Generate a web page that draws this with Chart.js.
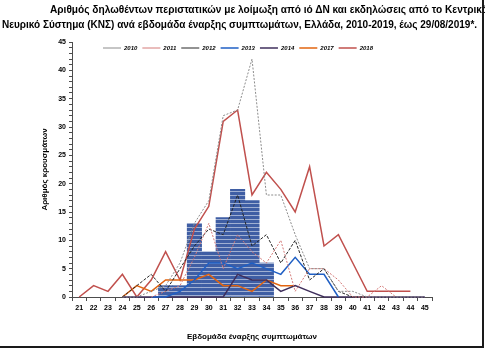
<!DOCTYPE html>
<html>
<head>
<meta charset="utf-8">
<script src="https://cdn.jsdelivr.net/npm/chart.js@4.4.0/dist/chart.umd.min.js"></script>
<style>
body { margin: 0; background: #fff; }
#wrap { position: relative; width: 485px; height: 350px; overflow: hidden; }
canvas { position: absolute; left: 0; top: 0; }
.t { position: absolute; white-space: nowrap; font: bold 11px "Liberation Sans Narrow", "Liberation Sans", sans-serif; color: #000; line-height: 12px; transform-origin: 0 0; }
#frameR { position: absolute; left: 482px; top: 0; width: 2px; height: 348px; background: #1a1a1a; }
#frameB { position: absolute; left: 0; top: 346px; width: 484px; height: 2px; background: #1a1a1a; }
</style>
</head>
<body>
<div id="wrap">
  <canvas id="myChart" width="485" height="350"></canvas>
  <div class="t" id="t1" data-w="438" style="left:50px;top:3px">Αριθμός δηλωθέντων περιστατικών με λοίμωξη από ιό ΔΝ και εκδηλώσεις από το Κεντρικό</div>
  <div class="t" id="t2" data-w="475" style="left:2px;top:18px">Νευρικό Σύστημα (ΚΝΣ) ανά εβδομάδα έναρξης συμπτωμάτων, Ελλάδα, 2010-2019, έως 29/08/2019*.</div>
  <div id="frameR"></div>
  <div id="frameB"></div>
</div>
<script>
// stretch the title lines to the width they have in the picture
document.querySelectorAll('.t').forEach(function (el) {
    let w = el.offsetWidth;
    el.style.transform = 'scaleX(' + (el.dataset.w / w) + ')';
});

const weeks = ['21','22','23','24','25','26','27','28','29','30','31','32','33','34','35','36','37','38','39','40','41','42','43','44','45'];

// 2019 cases (bars)
const cases2019 = [null,null,null,null,null,null,2,2,13,8,14,19,17,6,null,null,null,null,null,null,null,null,null,null,null];

// earlier seasons (lines)
const y2010 = [null,null,null,0,0,1,2,6,13,17,32,33,42,18,18,11,5,5,1,1,0,0,0,0,0];
const y2011 = [null,null,null,null,null,0,1,2,7,13,5,11,8,6,10,1,5,5,3,0,0,2,0,null,null];
const y2012 = [null,null,null,0,2,4,1,5,9,12,11,18,9,11,6,10,3,5,1,0,0,null,null,null,null];
const y2013 = [null,null,null,null,null,0,0,1,3,6,6,5,6,5,4,7,4,4,0,null,null,null,null,null,null];
const y2014 = [null,null,null,0,0,0,0,0,0,0,0,4,3,3,1,2,1,0,0,0,0,0,0,0,0];
const y2017 = [null,null,null,0,2,1,3,3,3,4,2,2,1,3,2,2,null,null,null,null,null,null,null,null,null];
const y2018 = [0,2,1,4,0,3,8,3,12,16,31,33,18,22,19,15,23,9,11,6,1,1,1,1,null];

let myChart = document.getElementById('myChart').getContext('2d');

function stripes () {
    let c = document.createElement('canvas');
    c.width = 4; c.height = 4;
    let g = c.getContext('2d');
    g.fillStyle = '#3f5ea4';
    g.fillRect(0, 0, 4, 4);
    g.fillStyle = 'rgba(255,255,255,0.5)';
    g.fillRect(0, 3, 4, 1);
    return myChart.createPattern(c, 'repeat');
}

function line (label, data, color, width, dash) {
    return {
        type: 'line', label: label, data: data,
        borderColor: color, backgroundColor: color,
        borderWidth: width, borderDash: dash,
        pointRadius: 0, tension: 0, fill: false, clip: false, order: 0
    };
}

// the legend sits inside the plot area in the original
const moveLegend = {
    id: 'moveLegend',
    afterLayout (chart) {
        let lg = chart.legend, h = lg.bottom - lg.top;
        lg.top = 40; lg.bottom = 40 + h;
        lg.left += 12; lg.right += 12;
    }
};

const tickFont = { family: '"Liberation Sans", sans-serif', size: 7, weight: 'bold' };
const axisColor = '#4d4d4d';

let chart = new Chart(myChart, {
    type: 'bar',
    data: {
        labels: weeks,
        datasets: [
            {
                label: '2019', data: cases2019,
                backgroundColor: stripes(), borderWidth: 0,
                barPercentage: 1, categoryPercentage: 1, order: 1
            },
            line('2010', y2010, '#8c8c8c', 1, [2, 1.5]),
            line('2011', y2011, '#d47a78', 1, [2, 1.5]),
            line('2012', y2012, '#262626', 1, [3, 1.5]),
            line('2013', y2013, '#1f5fc4', 1.5, []),
            line('2014', y2014, '#3f2f5c', 1.5, []),
            line('2017', y2017, '#e2640f', 1.5, []),
            line('2018', y2018, '#c0504d', 1.5, [])
        ]
    },
    options: {
        responsive: false,
        animation: false,
        layout: { padding: { left: 20, right: 53, top: 21, bottom: 8 } },
        plugins: {
            legend: {
                position: 'top',
                labels: {
                    usePointStyle: true, pointStyle: 'line', pointStyleWidth: 18,
                    boxWidth: 18, padding: 5, color: '#000',
                    font: { family: '"Liberation Sans", sans-serif', size: 6, weight: 'bold', style: 'italic' },
                    filter: item => item.text !== '2019'
                }
            },
            tooltip: { enabled: false }
        },
        scales: {
            x: {
                offset: true,
                grid: { display: true, drawOnChartArea: false, offset: true, tickLength: 4, color: axisColor },
                border: { color: axisColor },
                ticks: { autoSkip: false, maxRotation: 0, padding: 3, color: '#000', font: tickFont },
                title: {
                    display: true, text: 'Εβδομάδα έναρξης συμπτωμάτων', color: '#000',
                    font: { family: '"Liberation Sans Narrow", sans-serif', size: 8, weight: 'bold' },
                    padding: { top: 0, bottom: 0 }
                },
                afterFit: s => { s.height = 45; }
            },
            y: {
                min: 0, max: 45,
                grid: { display: true, drawOnChartArea: false, tickLength: 3, color: axisColor },
                border: { color: axisColor },
                ticks: {
                    stepSize: 1, autoSkip: false, padding: 3, color: '#000', font: tickFont,
                    callback: v => (v % 5 === 0 ? v : '')
                },
                title: {
                    display: true, text: 'Αριθμός κρουσμάτων', color: '#000',
                    font: { family: '"Liberation Sans Narrow", sans-serif', size: 8, weight: 'bold' },
                    padding: { top: 20, bottom: 0 }
                },
                afterFit: s => { s.width = 52; }
            }
        }
    },
    plugins: [moveLegend]
});
</script>
</body>
</html>
